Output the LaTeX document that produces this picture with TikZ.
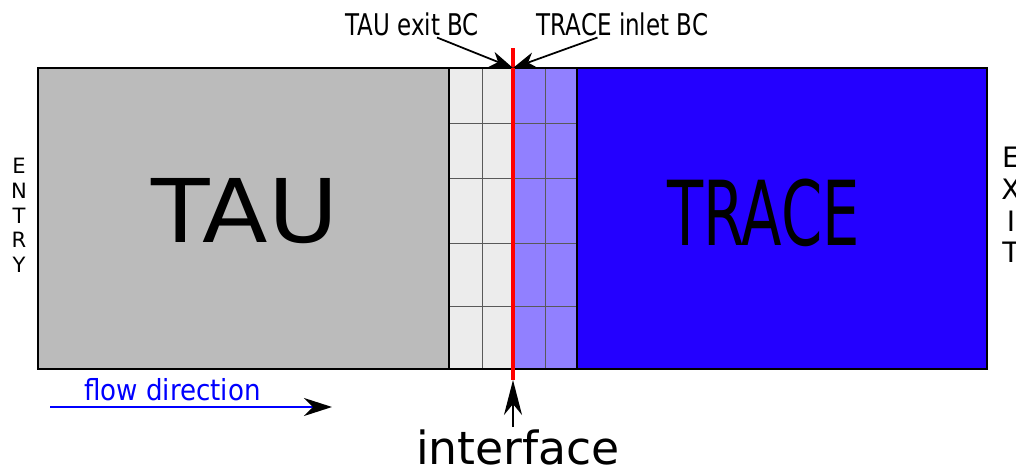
\documentclass[tikz,border=0pt]{standalone}
\usepackage{fontspec}
\setsansfont{DejaVu Sans}
\usetikzlibrary{arrows.meta}

\definecolor{taugray}{RGB}{187,187,187}
\definecolor{overlapgray}{RGB}{236,236,236}
\definecolor{overlapblue}{RGB}{145,128,255}
\definecolor{traceblue}{RGB}{36,0,255}

\begin{document}
\begin{tikzpicture}[>={Stealth[length=4.6mm,width=3.2mm,inset=1.4mm]}, font=\sffamily,
		gridline/.style={line width=0.5pt, black!65},
		bclabel/.style={anchor=base, inner sep=1pt, xscale=0.77, font=\sffamily\fontsize{17}{20}\selectfont}]
				
				\useasboundingbox (0,0) rectangle (20.32,9.4);
				
				% --- TAU-Gebiet ---
				\fill[taugray] (0.76,2.02) rectangle (8.98,8.04);
				\node[anchor=base, xscale=1.09, font=\sffamily\fontsize{50}{60}\selectfont] (tau) at (4.90,4.56) {TAU};
				
				% --- Ueberlappung ---
				\fill[overlapgray] (8.98,2.02) rectangle (10.26,8.04);
				\fill[overlapblue] (10.26,2.02) rectangle (11.54,8.04);
				\foreach \y in {6.94,5.84,4.54,3.28}{
					\draw[gridline] (8.98,\y) -- (11.54,\y);
				}
				\foreach \x in {9.64,10.90}{
					\draw[gridline] (\x,2.02) -- (\x,8.04);
				}
				
				% --- TRACE-Gebiet ---
				\fill[traceblue] (11.54,2.02) rectangle (19.74,8.04);
				\node[anchor=base, xscale=0.66, font=\sffamily\fontsize{51}{60}\selectfont] (trace) at (15.27,4.50) {TRACE};
				
				% --- Raender ---
				\draw[line width=1.6pt] (0.76,2.02) rectangle (19.74,8.04);
				\draw[line width=1.6pt] (8.98,2.02) -- (8.98,8.04);
				\draw[line width=1.6pt] (11.54,2.02) -- (11.54,8.04);
				
				% --- Interface ---
				\coordinate (ifTop) at (10.26,8.44);
				\coordinate (ifBot) at (10.26,1.80);
				\coordinate (bcPoint) at (10.26,8.04);
				\draw[red, line width=2.2pt] (ifTop) -- (ifBot);
				\node[anchor=base, inner sep=1pt, font=\sffamily\fontsize{26}{30}\selectfont] (iface) at (10.36,0.12) {interface};
				\draw[-{Stealth[length=7mm,width=3.6mm,inset=2.2mm]}, line width=1pt] (iface.north -| ifBot) -- (ifBot);
				
				% --- Randbedingungen ---
				\node[bclabel] (tauBC) at (8.24,8.70) {TAU exit BC};
				\node[bclabel] (traceBC) at (12.45,8.70) {TRACE inlet BC};
				\draw[->, line width=1pt] ([xshift=5mm]tauBC.south) -- (bcPoint);
				\draw[->, line width=1pt] ([xshift=-5mm]traceBC.south) -- (bcPoint);
				
				% --- Ein- und Austritt ---
				\node[align=center, font=\sffamily\fontsize{12}{14}\selectfont] (entry) at (0.38,5.09) {E\\N\\T\\R\\Y};
				\node[align=center, font=\sffamily\fontsize{16}{18}\selectfont] (exit) at (20.22,5.30) {E\\X\\I\\T};
				
				% --- Stroemungsrichtung ---
				\coordinate (flowStart) at (1.00,1.26);
				\coordinate (flowEnd) at (6.64,1.26);
				\draw[blue, line width=1pt, -{Stealth[length=5.6mm,width=3.6mm,inset=1.8mm,black]}] (flowStart) -- (flowEnd);
				\node[blue, anchor=base, inner sep=1pt, xscale=0.9, font=\sffamily\fontsize{16.5}{20}\selectfont] (flowLabel) at (3.45,1.40) {flow direction};
				
			\end{tikzpicture}
\end{document}
